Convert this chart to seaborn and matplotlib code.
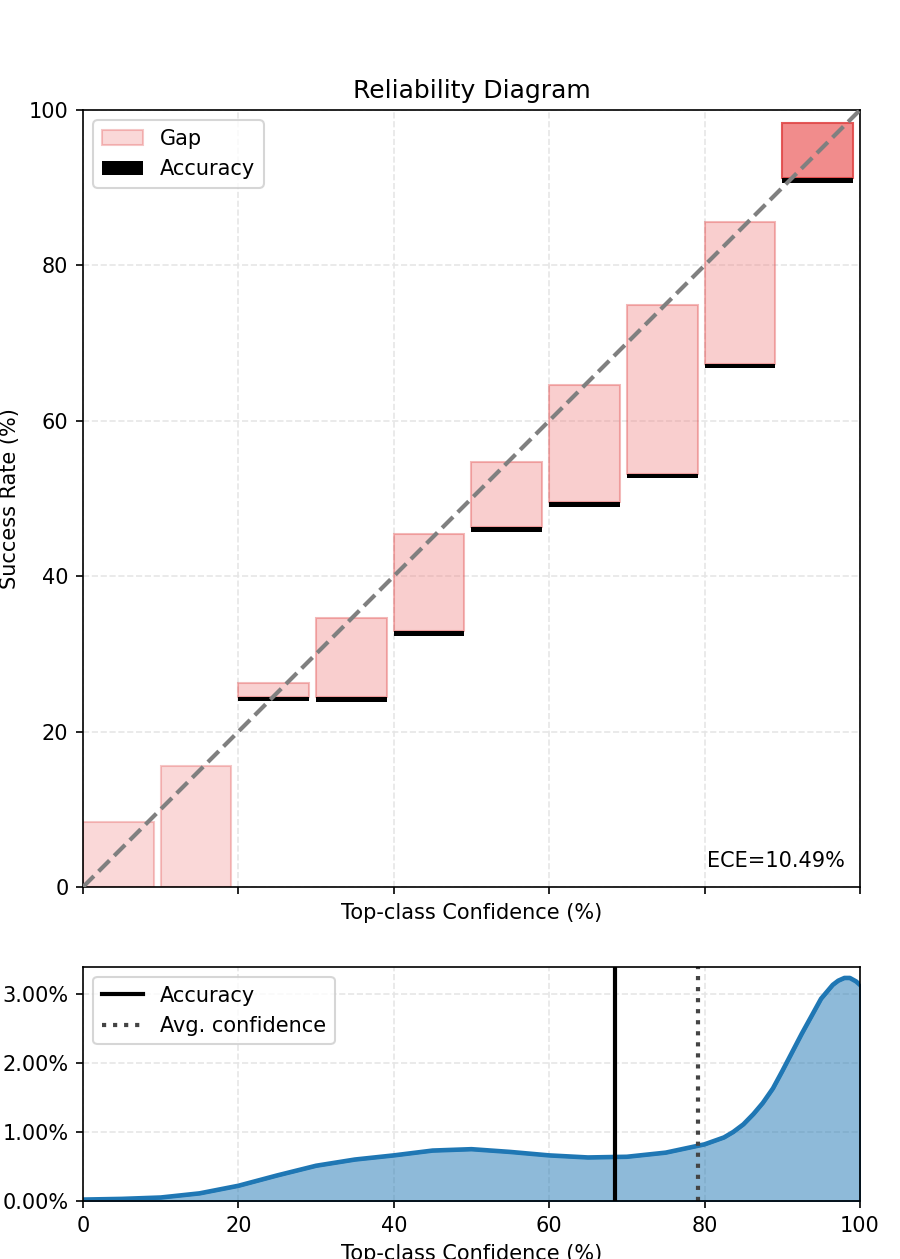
import numpy as np
import pandas as pd
import matplotlib
matplotlib.use('Agg')
import matplotlib.pyplot as plt
import seaborn as sns
from matplotlib.colors import to_rgba
from matplotlib.ticker import PercentFormatter

# ── data ────────────────────────────────────────────────────────────────────
bin_lower = [0, 10, 20, 30, 40, 50, 60, 70, 80, 90]
bin_conf = [8.4, 15.6, 26.3, 34.6, 45.4, 54.7, 64.6, 74.9, 85.6, 98.3]
bin_acc = [0.0, 0.0, 24.5, 24.4, 32.9, 46.3, 49.5, 53.2, 67.3, 91.2]
gap_alpha = [0.30, 0.30, 0.36, 0.38, 0.38, 0.38, 0.38, 0.38, 0.38, 0.90]
ece = 10.49

kde_conf = [0, 5, 10, 15, 20, 25, 30, 35, 40, 45, 50, 55, 60, 65, 70, 75, 80,
            82.5, 83.7, 85, 86.3, 87.5, 88.8, 90, 92.5, 95, 96.5, 97.2, 98, 98.7,
            99.5, 100]
kde_density = [0.02, 0.03, 0.05, 0.11, 0.22, 0.37, 0.51, 0.60, 0.66, 0.73, 0.75,
               0.71, 0.66, 0.63, 0.64, 0.70, 0.82, 0.92, 1.00, 1.11, 1.26, 1.42,
               1.63, 1.88, 2.42, 2.93, 3.13, 3.19, 3.23, 3.23, 3.18, 3.13]
mean_acc = 68.5
mean_conf = 79.1

fig = plt.figure(figsize=(6, 1259 / 150), dpi=150)
ax = fig.add_axes([0.0922, 0.2955, 0.8633, 0.6171])
ax2 = fig.add_axes([0.0922, 0.0461, 0.8633, 0.1859])

# ── 1. reliability bars ─────────────────────────────────────────────────────
lo = np.array(bin_lower, dtype=float)
conf = np.array(bin_conf); acc = np.array(bin_acc)
w = 9.1
face = [to_rgba('lightcoral', a) for a in gap_alpha]
edge = [to_rgba('#e04848', a) for a in gap_alpha]
ax.bar(lo, conf - acc, width=w, bottom=acc, align='edge', color=face,
       edgecolor=edge, linewidth=1, label='Gap', zorder=2)
ax.bar(lo, 0.55, width=w, bottom=acc - 0.55, align='edge', color='black',
       label='Accuracy', zorder=3)
diag = pd.DataFrame({'x': [0, 100], 'y': [0, 100]})
sns.lineplot(data=diag, x='x', y='y', ax=ax, color='gray', lw=2,
             linestyle='--', zorder=4)
ax.set_xlim(0, 100); ax.set_ylim(0, 100)
ax.set_xticks(range(0, 101, 20)); ax.set_yticks(range(0, 101, 20))
ax.tick_params(labelbottom=False)
ax.grid(True, ls='--', color='0.9', lw=0.8)
ax.set_axisbelow(True)
ax.set_xlabel('Top-class Confidence (%)'); ax.set_ylabel('Success Rate (%)')
ax.set_title('Reliability Diagram')
ax.legend(loc='upper left')
ax.text(0.98, 0.02, f'ECE={ece:.2f}%', transform=ax.transAxes, ha='right', va='bottom')

# ── 2. confidence distribution ──────────────────────────────────────────────
df = pd.DataFrame({'conf': kde_conf, 'density': kde_density})
ax2.fill_between(df['conf'], df['density'], facecolor=to_rgba('tab:blue', 0.5),
                 edgecolor='tab:blue', linewidth=1.2)
sns.lineplot(data=df, x='conf', y='density', ax=ax2, color='tab:blue', lw=2.2)
ax2.axvline(mean_acc, color='black', lw=2, label='Accuracy')
ax2.axvline(mean_conf, color='#444444', lw=2, ls=':', label='Avg. confidence')
ax2.set_xlim(0, 100); ax2.set_ylim(0, 3.39)
ax2.set_xticks(range(0, 101, 20)); ax2.set_yticks([0, 1, 2, 3])
ax2.yaxis.set_major_formatter(PercentFormatter(100, decimals=2))
ax2.grid(True, ls='--', color='0.9', lw=0.8)
ax2.set_axisbelow(True)
ax2.set_xlabel('Top-class Confidence (%)'); ax2.set_ylabel('')
ax2.legend(loc='upper left')

fig.savefig('out.png', dpi=150)
